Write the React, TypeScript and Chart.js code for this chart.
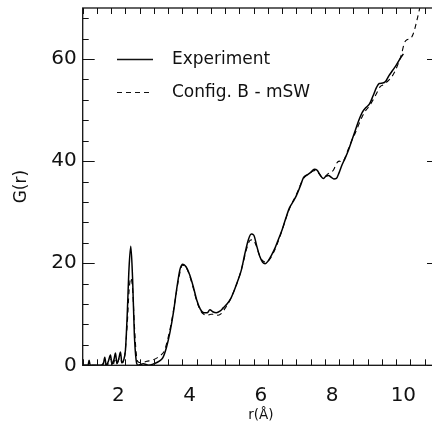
import React, { useEffect, useRef } from "react";
import { Chart, registerables } from "chart.js";

Chart.register(...registerables);

// Experiment G(r)
const rExp = [1.0, 1.15, 1.18, 1.21, 1.5, 1.58, 1.62, 1.66, 1.72, 1.78, 1.82, 1.88, 1.92, 1.96, 2.02, 2.06, 2.1, 2.15, 2.2, 2.25, 2.3, 2.35, 2.4, 2.45, 2.5, 2.55, 2.7, 2.85, 3.0, 3.15, 3.25, 3.35, 3.45, 3.55, 3.65, 3.73, 3.81, 3.9, 4.0, 4.1, 4.2, 4.3, 4.4, 4.5, 4.57, 4.65, 4.75, 4.85, 4.95, 5.05, 5.15, 5.25, 5.35, 5.45, 5.55, 5.65, 5.73, 5.8, 5.88, 5.96, 6.05, 6.12, 6.2, 6.3, 6.4, 6.5, 6.6, 6.7, 6.8, 6.9, 7.0, 7.1, 7.2, 7.3, 7.4, 7.5, 7.58, 7.67, 7.75, 7.82, 7.9, 7.98, 8.05, 8.12, 8.2, 8.28, 8.36, 8.45, 8.55, 8.65, 8.75, 8.85, 8.95, 9.05, 9.15, 9.25, 9.32, 9.42, 9.5, 9.6, 9.7, 9.8, 9.9, 10.0];
const gExp = [0, 0, 1.0, 0, 0, 0.3, 1.6, 0, 0.8, 2.0, 0.2, 1.2, 2.4, 0.3, 1.5, 2.6, 0.5, 1.0, 3.0, 10, 19, 23.3, 17, 6, 1.0, 0, 0.3, 0, 0.3, 0.8, 1.5, 3.5, 6.5, 10.5, 15.5, 18.8, 19.8, 19.3, 17.8, 15.5, 12.8, 11.0, 10.3, 10.3, 10.9, 10.5, 10.3, 10.6, 11.3, 12.0, 13.0, 14.6, 16.5, 18.6, 21.8, 24.6, 25.7, 25.5, 23.5, 21.5, 20.2, 19.9, 20.4, 21.6, 23.0, 24.8, 26.6, 28.8, 30.8, 32.0, 33.3, 35.0, 36.8, 37.3, 37.8, 38.4, 38.2, 37.2, 36.6, 37.0, 37.2, 36.8, 36.5, 36.6, 37.8, 39.3, 40.5, 42.0, 44.0, 46.0, 48.0, 49.6, 50.5, 51.2, 52.8, 54.5, 55.2, 55.3, 55.6, 56.8, 57.8, 58.8, 60.0, 61.0];

// Config. B - mSW G(r)
const rSim = [1.0, 1.55, 1.6, 1.65, 1.75, 1.8, 1.85, 1.9, 1.95, 2.05, 2.1, 2.18, 2.25, 2.3, 2.35, 2.4, 2.45, 2.5, 2.55, 2.65, 2.8, 2.95, 3.1, 3.2, 3.3, 3.4, 3.5, 3.6, 3.7, 3.8, 3.88, 3.98, 4.1, 4.2, 4.3, 4.4, 4.5, 4.6, 4.7, 4.8, 4.9, 5.0, 5.1, 5.2, 5.3, 5.4, 5.5, 5.6, 5.7, 5.78, 5.86, 5.95, 6.05, 6.15, 6.25, 6.35, 6.45, 6.55, 6.65, 6.75, 6.85, 6.95, 7.05, 7.15, 7.25, 7.35, 7.45, 7.55, 7.63, 7.72, 7.8, 7.9, 7.98, 8.05, 8.12, 8.2, 8.28, 8.36, 8.45, 8.55, 8.65, 8.75, 8.85, 8.95, 9.05, 9.15, 9.25, 9.35, 9.45, 9.55, 9.65, 9.75, 9.85, 9.95, 10.02, 10.1, 10.2, 10.28, 10.36, 10.46];
const gSim = [0, 0, 0.8, 0, 0.5, 1.2, 0, 1.0, 0.3, 1.5, 0.5, 2, 8, 14.5, 17.1, 15, 8, 2.5, 0.7, 0.5, 0.8, 1.0, 1.5, 2.0, 3.0, 5.5, 8.8, 13.0, 17.2, 19.6, 19.4, 18.0, 15.2, 12.6, 10.8, 10.0, 9.8, 10.0, 10.0, 9.8, 10.2, 11.2, 12.3, 13.8, 15.5, 17.5, 20.0, 22.8, 24.5, 24.6, 23.6, 21.8, 20.5, 20.2, 20.8, 22.0, 23.6, 25.5, 27.6, 29.7, 31.4, 32.8, 34.3, 36.0, 37.0, 37.5, 38.0, 38.2, 37.6, 36.9, 37.0, 37.6, 37.8, 38.4, 39.5, 40.0, 39.8, 40.6, 42.3, 44.0, 45.5, 47.2, 48.8, 50.0, 50.8, 52.0, 53.3, 54.6, 55.0, 55.6, 56.3, 57.4, 59.0, 61.0, 63.0, 63.8, 64.0, 65.0, 67.0, 70];

const seriesLabels = ["Experiment", "Config. B - mSW"];
const xMajorTicks = [2, 4, 6, 8, 10];
const yMajorTicks = [0, 20, 40, 60];
const xMinorStep = 0.4;
const yMinorStep = 4;
const xRange = [1, 11];
const yRange = [0, 70];

const FONT = "'DejaVu Sans', sans-serif";

const zeroPad = (s: any) => {
  s.paddingTop = 0;
  s.paddingBottom = 0;
  s.paddingLeft = 0;
  s.paddingRight = 0;
};

const framePlugin = {
  id: "frame",
  afterDatasetsDraw(chart: any) {
    const { ctx, chartArea: a, scales } = chart;
    const xs = scales.x;
    const ys = scales.y;
    ctx.save();
    ctx.strokeStyle = "#111";
    const line = (x1: number, y1: number, x2: number, y2: number) => {
      ctx.beginPath();
      ctx.moveTo(x1, y1);
      ctx.lineTo(x2, y2);
      ctx.stroke();
    };
    ctx.lineWidth = 1;
    // x ticks
    for (let v = xRange[0]; v <= xRange[1] + 1e-6; v += xMinorStep) {
      const vv = Math.round(v * 10) / 10;
      const isMajor = xMajorTicks.some((m) => Math.abs(m - vv) < 1e-6);
      const len = isMajor ? 11 : 6;
      const px = Math.round(xs.getPixelForValue(vv)) + 0.5;
      line(px, a.bottom, px, a.bottom - len);
      line(px, a.top, px, a.top + len);
    }
    // y ticks
    for (let v = yRange[0]; v <= yRange[1] + 1e-6; v += yMinorStep) {
      const isMajor = yMajorTicks.includes(v);
      const len = isMajor ? 12 : 6;
      const py = Math.round(ys.getPixelForValue(v)) + 0.5;
      line(a.left, py, a.left + len, py);
      line(a.right, py, a.right - len, py);
    }
    ctx.lineWidth = 1.3;
    ctx.strokeRect(a.left, a.top, a.right - a.left, a.bottom - a.top);

    // legend
    const ds = chart.data.datasets;
    const rows = [ys.getPixelForValue(60), ys.getPixelForValue(53.5)];
    ctx.font = `17px ${FONT}`;
    ctx.textBaseline = "middle";
    ctx.fillStyle = "#111";
    ds.forEach((d: any, i: number) => {
      const y = Math.round(rows[i]) + 0.5;
      ctx.lineWidth = d.borderWidth;
      ctx.setLineDash(d.borderDash || []);
      line(117, y, 153, y);
      ctx.setLineDash([]);
      ctx.fillText(d.label, 172, y);
    });
    ctx.restore();
  },
};

export default function App() {
  const ref = useRef<HTMLCanvasElement>(null);
  useEffect(() => {
    const canvas = ref.current!;
    const toPts = (xs: number[], ys: number[]) => xs.map((x, i) => ({ x, y: ys[i] }));
    const chart = new Chart(canvas, {
      type: "line",
      data: {
        datasets: [
          {
            label: seriesLabels[0],
            data: toPts(rExp, gExp),
            borderColor: "#000",
            borderWidth: 1.5,
            pointRadius: 0,
            cubicInterpolationMode: "monotone",
            fill: false,
          },
          {
            label: seriesLabels[1],
            data: toPts(rSim, gSim),
            borderColor: "#000",
            borderWidth: 1.1,
            borderDash: [5, 4],
            pointRadius: 0,
            cubicInterpolationMode: "monotone",
            fill: false,
          },
        ],
      },
      options: {
        animation: false,
        responsive: false,
        devicePixelRatio: 1,
        layout: { padding: { top: 8, right: 11, left: 0, bottom: 0 } },
        plugins: { legend: { display: false }, tooltip: { enabled: false } },
        scales: {
          x: {
            type: "linear",
            min: xRange[0],
            max: xRange[1],
            grid: { display: false, drawTicks: false },
            border: { display: false },
            afterBuildTicks: (s: any) => {
              s.ticks = xMajorTicks.map((v) => ({ value: v }));
            },
            afterFit: (s: any) => {
              s.height = 60.7;
              zeroPad(s);
            },
            ticks: {
              color: "#111",
              font: { family: FONT, size: 20 },
              padding: 18,
              maxRotation: 0,
              autoSkip: false,
              callback: (v: any) => String(v),
            },
            title: {
              display: true,
              text: "r(Å)",
              color: "#111",
              font: { family: FONT, size: 13.5 },
              padding: { top: 0, bottom: 2 },
            },
          },
          y: {
            type: "linear",
            min: yRange[0],
            max: yRange[1],
            grid: { display: false, drawTicks: false },
            border: { display: false },
            afterBuildTicks: (s: any) => {
              s.ticks = yMajorTicks.map((v) => ({ value: v }));
            },
            afterFit: (s: any) => {
              s.width = 82.7;
              zeroPad(s);
            },
            ticks: {
              color: "#111",
              font: { family: FONT, size: 20 },
              padding: 6,
              autoSkip: false,
              callback: (v: any) => String(v),
            },
            title: {
              display: true,
              text: "G(r)",
              color: "#111",
              font: { family: FONT, size: 17 },
              padding: { top: 11, bottom: 0 },
            },
          },
        },
      },
      plugins: [framePlugin],
    } as any);
    return () => chart.destroy();
  }, []);
  return (
    <div style={{ position: "fixed", left: 0, top: 0, width: 432, height: 426, overflow: "hidden", background: "#fff" }}>
      <canvas ref={ref} width={450} height={426} style={{ display: "block", width: 450, height: 426 }} />
    </div>
  );
}
